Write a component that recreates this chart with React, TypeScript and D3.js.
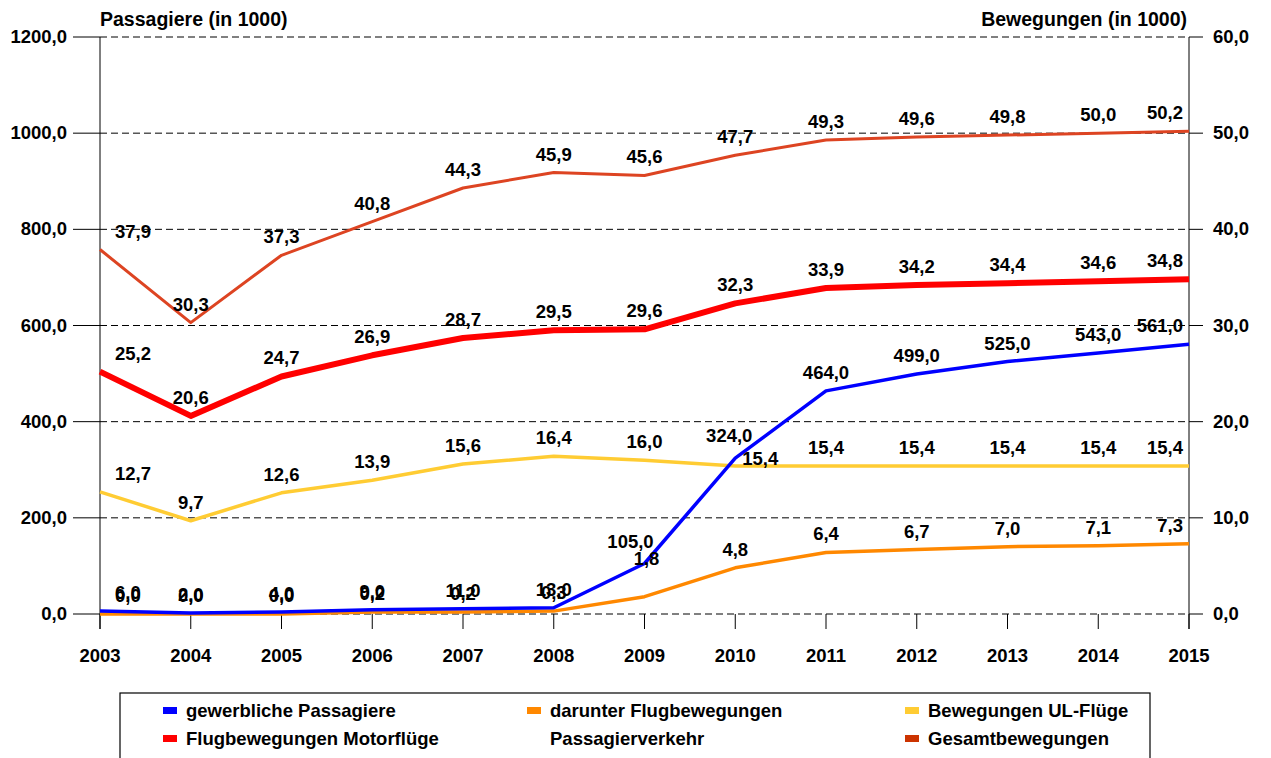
import React, { useEffect, useRef } from 'react';
import * as d3 from 'd3';

// years on the x axis
const years = ['2003', '2004', '2005', '2006', '2007', '2008', '2009', '2010', '2011', '2012', '2013', '2014', '2015'];

// left axis (Passagiere in 1000)
const gewerblichePassagiere = [6.0, 2.0, 4.0, 9.0, 11.0, 13.0, 105.0, 324.0, 464.0, 499.0, 525.0, 543.0, 561.0];

// right axis (Bewegungen in 1000)
const gesamtBewegungen = [37.9, 30.3, 37.3, 40.8, 44.3, 45.9, 45.6, 47.7, 49.3, 49.6, 49.8, 50.0, 50.2];
const motorfluege = [25.2, 20.6, 24.7, 26.9, 28.7, 29.5, 29.6, 32.3, 33.9, 34.2, 34.4, 34.6, 34.8];
const ulFluege = [12.7, 9.7, 12.6, 13.9, 15.6, 16.4, 16.0, 15.4, 15.4, 15.4, 15.4, 15.4, 15.4];
const passagierverkehr = [0.0, 0.0, 0.0, 0.2, 0.2, 0.3, 1.8, 4.8, 6.4, 6.7, 7.0, 7.1, 7.3];

const leftTicks = [0, 200, 400, 600, 800, 1000, 1200];
const rightTicks = [0, 10, 20, 30, 40, 50, 60];

const fmt = (v: number) => v.toFixed(1).replace('.', ',');

export default function App() {
  const ref = useRef<SVGSVGElement>(null);

  useEffect(() => {
    const svg = d3.select(ref.current);
    svg.selectAll('*').remove();

    const left = 100, right = 1189, top = 37, bottom = 614;
    const font = 'Arial, "Liberation Sans", sans-serif';

    const x = d3.scalePoint<string>().domain(years).range([left, right]);
    const yL = d3.scaleLinear().domain([0, 1200]).range([bottom, top]);
    const yR = d3.scaleLinear().domain([0, 60]).range([bottom, top]);

    const g = svg.append('g');

    // grid lines (dashed)
    g.selectAll('.grid')
      .data(leftTicks)
      .join('line')
      .attr('x1', left).attr('x2', right)
      .attr('y1', d => yL(d)).attr('y2', d => yL(d))
      .attr('stroke', '#000').attr('stroke-width', 1)
      .attr('stroke-dasharray', '7,4');

    // left axis
    g.append('line').attr('x1', left).attr('x2', left).attr('y1', top).attr('y2', bottom + 15)
      .attr('stroke', '#000');
    g.selectAll('.ltick').data(leftTicks).join('line')
      .attr('x1', 73).attr('x2', left).attr('y1', d => yL(d)).attr('y2', d => yL(d))
      .attr('stroke', '#000');
    g.selectAll('.llab').data(leftTicks).join('text')
      .attr('x', 67).attr('y', d => yL(d) + 6)
      .attr('text-anchor', 'end')
      .style('font', `bold 18.5px ${font}`)
      .text(d => fmt(d));

    // right axis
    g.append('line').attr('x1', right).attr('x2', right).attr('y1', top).attr('y2', bottom + 15)
      .attr('stroke', '#000');
    g.selectAll('.rtick').data(rightTicks).join('line')
      .attr('x1', right).attr('x2', 1203).attr('y1', d => yR(d)).attr('y2', d => yR(d))
      .attr('stroke', '#000');
    g.selectAll('.rlab').data(rightTicks).join('text')
      .attr('x', 1213).attr('y', d => yR(d) + 6)
      .style('font', `bold 18.5px ${font}`)
      .text(d => fmt(d));

    // x ticks and labels
    g.selectAll('.xtick').data(years).join('line')
      .attr('x1', d => x(d)!).attr('x2', d => x(d)!)
      .attr('y1', bottom).attr('y2', bottom + 15)
      .attr('stroke', '#000');
    g.selectAll('.xlab').data(years).join('text')
      .attr('x', d => x(d)!).attr('y', 662)
      .attr('text-anchor', 'middle')
      .style('font', `bold 18.5px ${font}`)
      .text(d => d);

    // axis titles
    g.append('text').attr('x', 100).attr('y', 26)
      .style('font', `bold 19.5px ${font}`).text('Passagiere (in 1000)');
    g.append('text').attr('x', 1187).attr('y', 26).attr('text-anchor', 'end')
      .style('font', `bold 19.5px ${font}`).text('Bewegungen (in 1000)');

    const series = [
      { key: 'ges', values: gesamtBewegungen, y: yR, color: '#dd4422', width: 3 },
      { key: 'mot', values: motorfluege, y: yR, color: '#ff0000', width: 6 },
      { key: 'ul', values: ulFluege, y: yR, color: '#ffcc33', width: 3.5 },
      { key: 'pax', values: passagierverkehr, y: yR, color: '#ff8800', width: 3.5 },
      { key: 'gew', values: gewerblichePassagiere, y: yL, color: '#0000ff', width: 3.5 },
    ];

    // a few labels were moved by hand in the original
    const nudge: Record<string, [number, number]> = {
      'ul-7': [25, 11],
      'pax-6': [2, -20],
      'gew-6': [-14, -4],
      'gew-7': [-6, -4],
    };

    series.forEach(s => {
      const line = d3.line<number>()
        .x((_, i) => x(years[i])!)
        .y(d => s.y(d));
      g.append('path')
        .datum(s.values)
        .attr('d', line)
        .attr('fill', 'none')
        .attr('stroke', s.color)
        .attr('stroke-width', s.width)
        .attr('stroke-linejoin', 'round');
    });

    series.forEach(s => {
      g.selectAll(`.lab-${s.key}`)
        .data(s.values)
        .join('text')
        .attr('x', (d, i) => {
          const n = nudge[`${s.key}-${i}`];
          if (i === 0) return 115;
          if (i === years.length - 1) return 1183;
          return x(years[i])! + (n ? n[0] : 0);
        })
        .attr('y', (d, i) => {
          const n = nudge[`${s.key}-${i}`];
          return s.y(d) - 12 + (n ? n[1] : 0);
        })
        .attr('text-anchor', (d, i) => i === 0 ? 'start' : i === years.length - 1 ? 'end' : 'middle')
        .style('font', `bold 18.5px ${font}`)
        .attr('fill', '#000')
        .text(d => fmt(d));
    });

    // legend
    const lg = svg.append('g');
    lg.append('rect').attr('x', 120).attr('y', 693).attr('width', 1030).attr('height', 80)
      .attr('fill', '#fff').attr('stroke', '#000').attr('stroke-width', 1.2);
    const items = [
      { label: ['gewerbliche Passagiere'], color: '#0000ff', x: 163, row: 0 },
      { label: ['darunter Flugbewegungen', 'Passagierverkehr'], color: '#ff8800', x: 527, row: 0 },
      { label: ['Bewegungen UL-Flüge'], color: '#ffcc33', x: 905, row: 0 },
      { label: ['Flugbewegungen Motorflüge'], color: '#ff0000', x: 163, row: 1 },
      { label: ['Gesamtbewegungen'], color: '#cc3300', x: 905, row: 1 },
    ];
    items.forEach(it => {
      const cy = 711 + it.row * 28;
      lg.append('rect').attr('x', it.x).attr('y', cy - 4).attr('width', 14).attr('height', 7)
        .attr('fill', it.color);
      it.label.forEach((t, j) => {
        lg.append('text').attr('x', it.x + 23).attr('y', cy + 6 + j * 28)
          .style('font', `bold 18.5px ${font}`).text(t);
      });
    });
  }, []);

  return (
    <svg ref={ref} width={1271} height={758}
      style={{ position: 'fixed', left: 0, top: 0, background: '#fff' }} />
  );
}
